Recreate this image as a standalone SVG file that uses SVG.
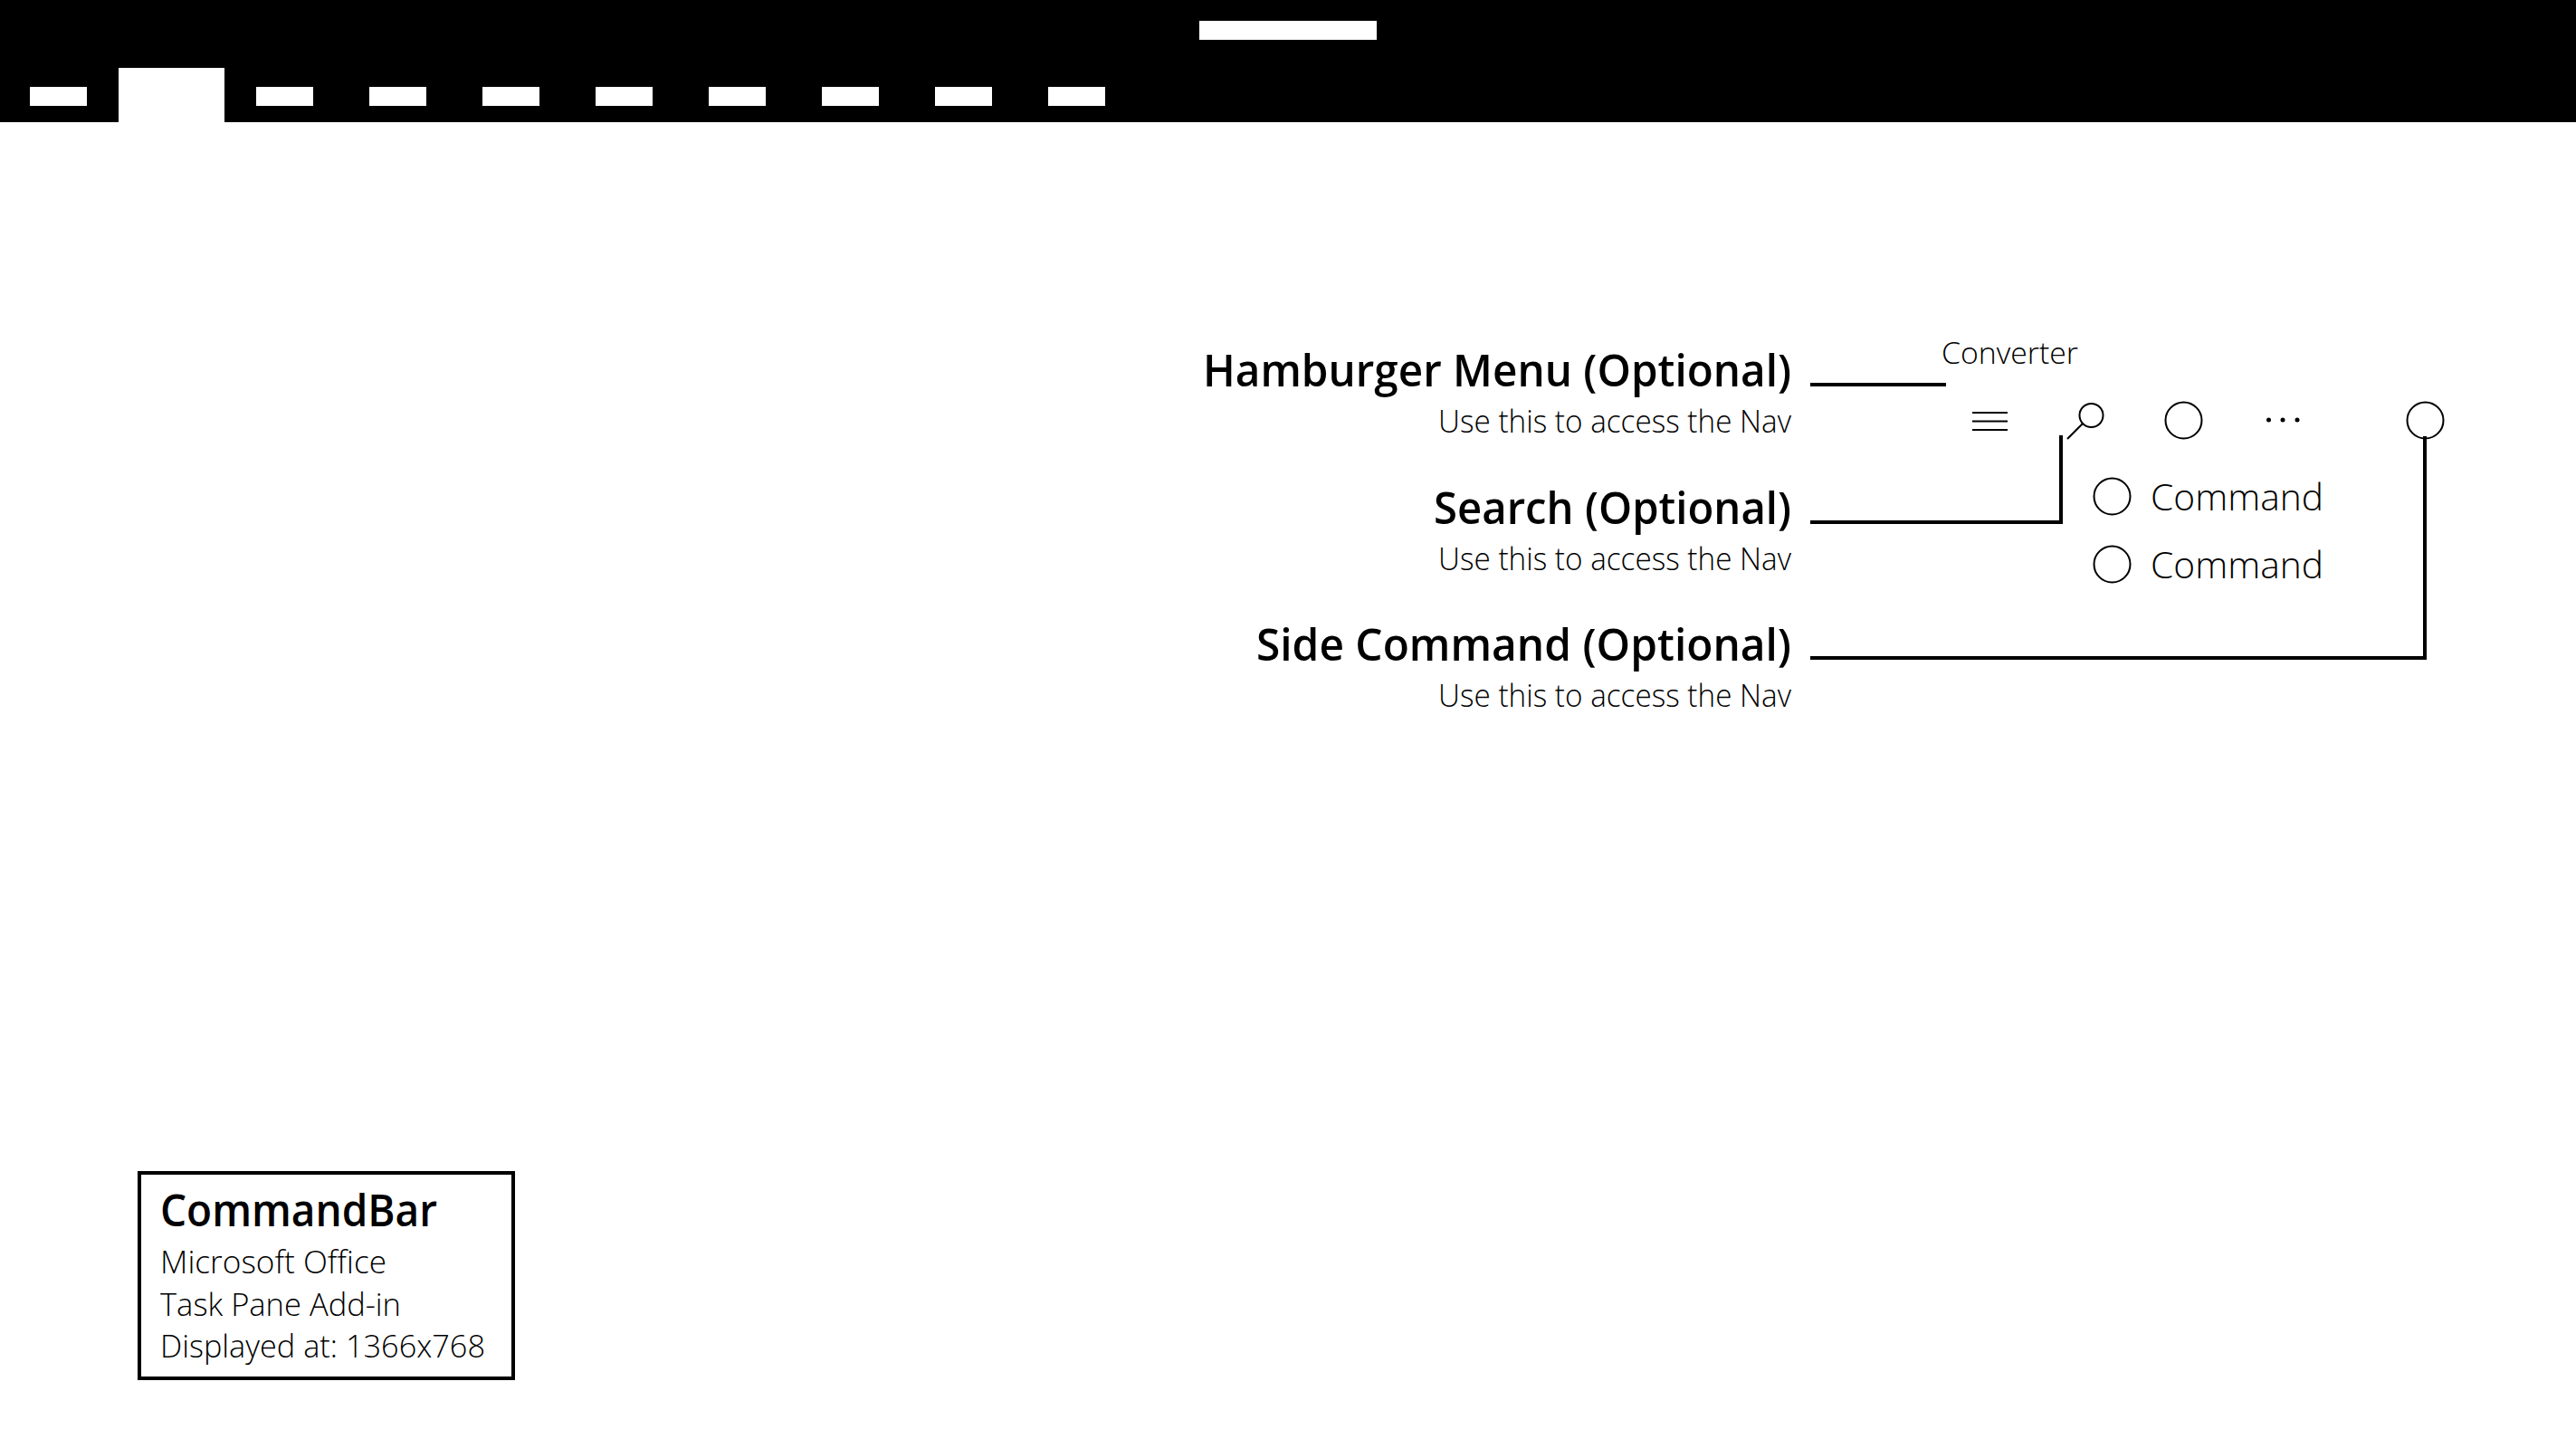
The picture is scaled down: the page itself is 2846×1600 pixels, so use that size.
<svg xmlns="http://www.w3.org/2000/svg" width="2846" height="1600" viewBox="0 0 2846 1600">
<style>
text{font-family:"Open Sans","Noto Sans","Liberation Sans",sans-serif;fill:#000}
.h{font-size:49px;font-weight:600;text-anchor:end}
.s{font-size:35px;font-weight:300;text-anchor:end}
.c{font-size:41px;font-weight:300}
.b{font-size:35px;font-weight:300}
.i{fill:#fff;stroke:#000;stroke-width:2}
.w{fill:#fff}
.l{fill:none;stroke:#000;stroke-width:4}
.t{fill:none;stroke:#000;stroke-width:2}
</style>
<rect width="2846" height="1600" fill="#fff"/>
<g id="top-bar">
<rect width="2846" height="135" fill="#000"/>
<rect class="w" x="1325" y="23" width="196" height="21"/>
<rect class="w" x="131" y="75" width="117" height="60"/>
<rect class="w" x="33" y="96" width="63" height="21"/>
<rect class="w" x="283" y="96" width="63" height="21"/>
<rect class="w" x="408" y="96" width="63" height="21"/>
<rect class="w" x="533" y="96" width="63" height="21"/>
<rect class="w" x="658" y="96" width="63" height="21"/>
<rect class="w" x="783" y="96" width="63" height="21"/>
<rect class="w" x="908" y="96" width="63" height="21"/>
<rect class="w" x="1033" y="96" width="63" height="21"/>
<rect class="w" x="1158" y="96" width="63" height="21"/>
</g>
<g id="connectors">
<path class="l" d="M2000 425H2150"/>
<path class="l" d="M2000 577H2277V481"/>
<path class="l" d="M2000 727H2679V482"/>
</g>
<g id="label-hamburger">
<text class="h" x="1979" y="427" textLength="650" lengthAdjust="spacingAndGlyphs">Hamburger Menu (Optional)</text>
<text class="s" x="1979" y="477.500" textLength="390" lengthAdjust="spacingAndGlyphs">Use this to access the Nav</text>
</g>
<g id="label-search">
<text class="h" x="1979" y="579" textLength="395" lengthAdjust="spacingAndGlyphs">Search (Optional)</text>
<text class="s" x="1979" y="629.500" textLength="390" lengthAdjust="spacingAndGlyphs">Use this to access the Nav</text>
</g>
<g id="label-side">
<text class="h" x="1979" y="730" textLength="591" lengthAdjust="spacingAndGlyphs">Side Command (Optional)</text>
<text class="s" x="1979" y="780.500" textLength="390" lengthAdjust="spacingAndGlyphs">Use this to access the Nav</text>
</g>
<g id="title"><text x="2145" y="402" font-size="33" font-weight="300" textLength="151" lengthAdjust="spacingAndGlyphs">Converter</text></g>
<g id="hamburger-icon"><path class="t" d="M2179 456H2218M2179 465.500H2218M2179 475H2218"/></g>
<g id="search-icon"><circle class="i" cx="2310.500" cy="459" r="13"/><path class="t" d="M2284 485L2301 468"/></g>
<g id="icon-command"><circle class="i" cx="2412.500" cy="464.500" r="20"/></g>
<g id="more-icon"><circle cx="2506.500" cy="464" r="2.500"/><circle cx="2522" cy="464" r="2.500"/><circle cx="2538" cy="464" r="2.500"/></g>
<g id="side-icon"><circle class="i" cx="2679.500" cy="464.500" r="20" style="fill:none"/></g>
<g id="command-1"><circle class="i" cx="2333.500" cy="548.500" r="20"/><text class="c" x="2376" y="563.500" textLength="191" lengthAdjust="spacingAndGlyphs">Command</text></g>
<g id="command-2"><circle class="i" cx="2333.500" cy="623.500" r="20"/><text class="c" x="2376" y="638.500" textLength="191" lengthAdjust="spacingAndGlyphs">Command</text></g>
<g id="info-box">
<rect x="154" y="1296" width="413" height="227" fill="#fff" stroke="#000" stroke-width="4"/>
<text x="177" y="1355" font-size="49" font-weight="600" textLength="306" lengthAdjust="spacingAndGlyphs">CommandBar</text>
<text class="b" x="177" y="1407" textLength="250" lengthAdjust="spacingAndGlyphs">Microsoft Office</text>
<text class="b" x="177" y="1454" textLength="266" lengthAdjust="spacingAndGlyphs">Task Pane Add-in</text>
<text class="b" x="177" y="1500" textLength="359" lengthAdjust="spacingAndGlyphs">Displayed at: 1366x768</text>
</g>
</svg>
